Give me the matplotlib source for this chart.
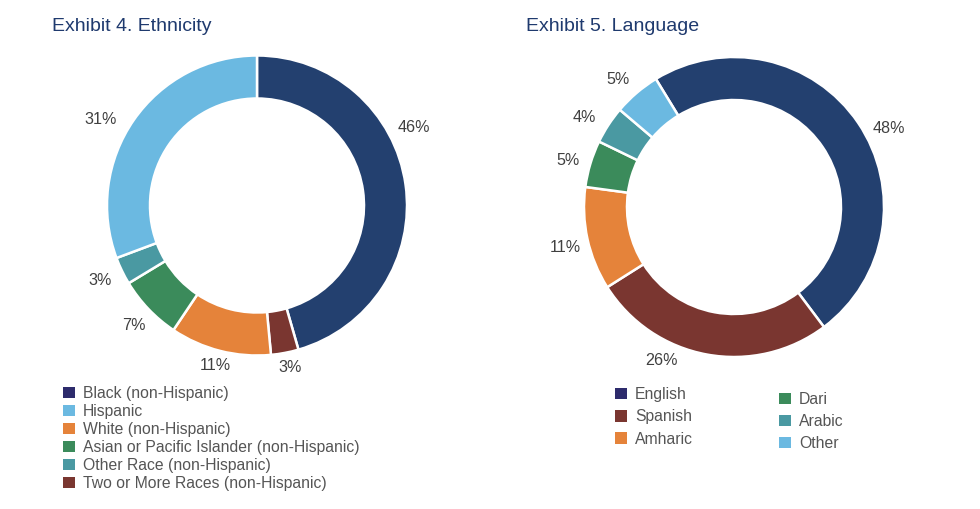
import numpy as np
import matplotlib
matplotlib.use("Agg")
import matplotlib.pyplot as plt
from matplotlib.patches import Patch

plt.rcParams["font.family"] = ["Liberation Sans", "DejaVu Sans"]

W, H = 980, 509

# ---- data -------------------------------------------------------------
ETH_SLICES = ["Black (non-Hispanic)", "Two or More Races (non-Hispanic)", "White (non-Hispanic)",
              "Asian or Pacific Islander (non-Hispanic)", "Other Race (non-Hispanic)", "Hispanic"]
ETH_VALUES = [46, 3, 11, 7, 3, 31]
ETH_LEGEND = ["Black (non-Hispanic)", "Hispanic", "White (non-Hispanic)",
              "Asian or Pacific Islander (non-Hispanic)", "Other Race (non-Hispanic)",
              "Two or More Races (non-Hispanic)"]

LANG_SLICES = ["English", "Spanish", "Amharic", "Dari", "Arabic", "Other"]
LANG_VALUES = [48, 26, 11, 5, 4, 5]
LANG_LEGEND_1 = ["English", "Spanish", "Amharic"]
LANG_LEGEND_2 = ["Dari", "Arabic", "Other"]

# ---- styles -----------------------------------------------------------
NAVY = "#23406f"
COLORS = {
    "Black (non-Hispanic)": NAVY,
    "Hispanic": "#6bb9e1",
    "White (non-Hispanic)": "#e5833a",
    "Asian or Pacific Islander (non-Hispanic)": "#3b8b5b",
    "Other Race (non-Hispanic)": "#4a99a2",
    "Two or More Races (non-Hispanic)": "#7a3630",
    "English": NAVY,
    "Spanish": "#7a3630",
    "Amharic": "#e5833a",
    "Dari": "#3b8b5b",
    "Arabic": "#4a99a2",
    "Other": "#6bb9e1",
}
LEGEND_NAVY = "#2d2b6c"
TITLE_COLOR = "#1f3a6e"
LABEL_COLOR = "#404040"
TEXT_COLOR = "#555555"

# label nudges (clockwise degrees, radius in px) mimicking the original placement
ETH_NUDGE = [(-18.6, 175), (-0.8, 165), (0.5, 165), (-0.7, 172), (0.4, 174), (-6, 178)]
LANG_NUDGE = [(7.3, 173), (15, 170), (-1.3, 174), (-1, 172), (-2.3, 174), (-1.9, 172)]


def donut(ax, names, values, cx, cy, start, nudges):
    R = 150
    wedges, _ = ax.pie(values, colors=[COLORS[n] for n in names], startangle=start,
                       counterclock=False, center=(cx, H - cy), radius=R,
                       wedgeprops=dict(width=43, edgecolor="white", linewidth=1.8))
    for w, v, (d, r) in zip(wedges, values, nudges):
        ang = np.deg2rad((w.theta1 + w.theta2) / 2 - d)
        ax.text(cx + r * np.cos(ang), H - cy + r * np.sin(ang), f"{v}%",
                ha="center", va="center", fontsize=11.6, color=LABEL_COLOR)


def legend(fig, names, x, y, spacing):
    handles = [Patch(facecolor=LEGEND_NAVY if COLORS[n] == NAVY else COLORS[n], edgecolor="none")
               for n in names]
    lg = fig.legend(handles, names, loc="upper left", bbox_to_anchor=(x / W, 1 - y / H),
                    frameon=False, borderaxespad=0, borderpad=0, fontsize=11.3,
                    handlelength=0.76, handleheight=0.76, handletextpad=0.5,
                    labelspacing=spacing)
    for t in lg.get_texts():
        t.set_color(TEXT_COLOR)
    return lg


fig = plt.figure(figsize=(W / 100, H / 100), dpi=100)
ax = fig.add_axes([0, 0, 1, 1])

donut(ax, ETH_SLICES, ETH_VALUES, 257, 205.5, 90, ETH_NUDGE)
donut(ax, LANG_SLICES, LANG_VALUES, 734, 207, 121.4, LANG_NUDGE)

ax.set_xlim(0, W)
ax.set_ylim(0, H)
ax.set_aspect("equal")
ax.axis("off")

ax.text(52, H - 26, "Exhibit 4. Ethnicity", fontsize=14, color=TITLE_COLOR, ha="left", va="center")
ax.text(526, H - 26, "Exhibit 5. Language", fontsize=14, color=TITLE_COLOR, ha="left", va="center")

legend(fig, ETH_LEGEND, 63, 386, 0.19)
legend(fig, LANG_LEGEND_1, 615, 387, 0.47)
legend(fig, LANG_LEGEND_2, 779, 392, 0.45)

fig.savefig("out.png", dpi=100)
